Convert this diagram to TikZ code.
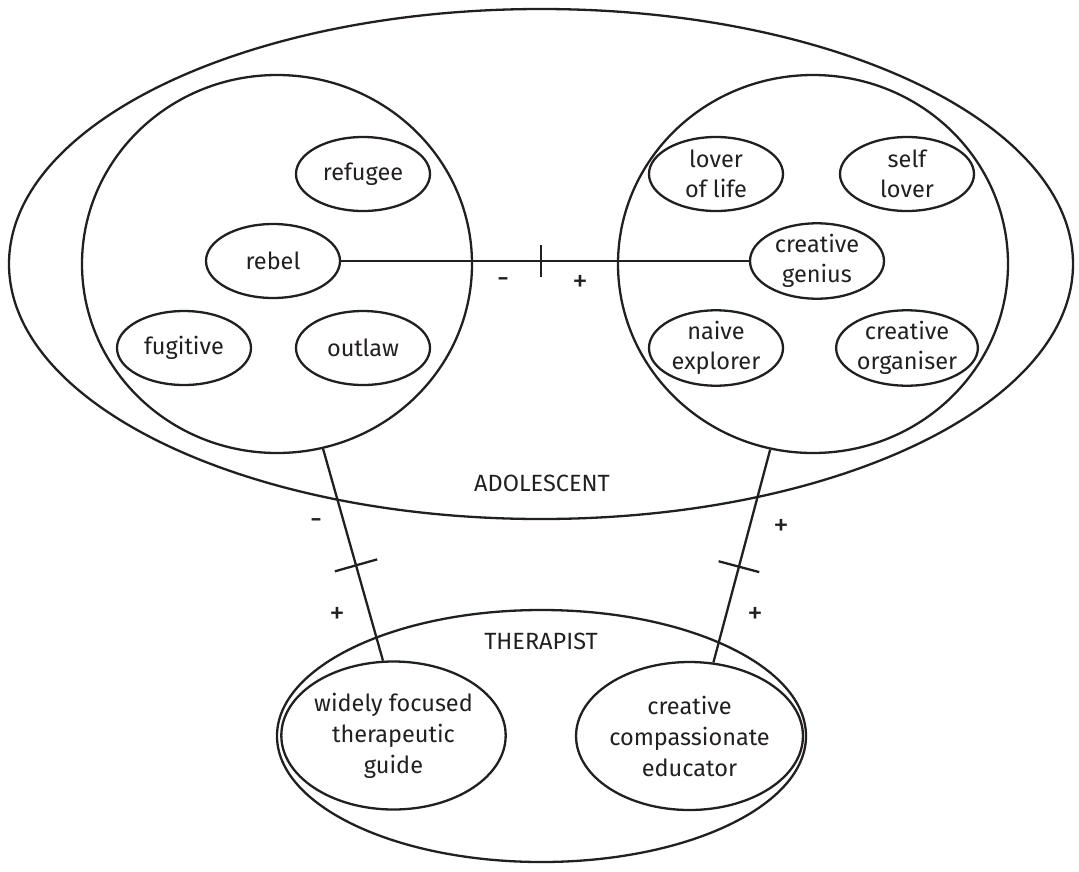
\documentclass[tikz,border=0pt]{standalone}
\usepackage{fontspec}
\setmainfont{Fira Sans}
\usetikzlibrary{shapes.geometric,calc}
\definecolor{ink}{HTML}{231F20}
\begin{document}
\begin{tikzpicture}[x=1pt,y=-1pt,
  every node/.style={font=\fontsize{23.5}{31}\selectfont, text=ink},
  oval/.style={draw=ink, ellipse, line width=2.3pt, inner sep=0pt, align=center},
  role/.style={oval, minimum width=134pt, minimum height=74pt},
  guide/.style={oval, minimum width=216pt, minimum height=148pt},
  link/.style={draw=ink, line width=2.3pt},
  sign/.style={inner sep=0pt, font=\fontsize{31}{31}\selectfont}]
\useasboundingbox (0,0) rectangle (1079,871);

% outer groupings
\node[oval, minimum width=1064pt, minimum height=510pt] (adol) at (541,264) {};
\node[oval, minimum width=390pt, minimum height=378pt] (neg) at (277,264) {};
\node[oval, minimum width=390pt, minimum height=378pt] (pos) at (813,264) {};
\node[oval, minimum width=529pt, minimum height=252pt] (ther) at (541.5,736) {};

% negative roles
\node[role] (refugee) at (363,174) {refugee};
\node[role] (rebel) at (273,261) {rebel};
\node[role] (fugitive) at (184,348) {fugitive};
\node[role] (outlaw) at (363,348) {outlaw};

% positive roles
\node[role] (loverlife) at (716,174) {lover\\[-1pt]of life};
\node[role] (selflover) at (907,174) {self\\[-1pt]lover};
\node[role] (genius) at (817,261) {creative\\[-1pt]genius};
\node[role] (naive) at (716,348) {naive\\[-1pt]explorer};
\node[role] (organiser) at (907,348) {creative\\[-1pt]organiser};

% therapist roles
\node[guide] (wide) at (393.5,735.5) {widely focused\\therapeutic\\guide};
\node[guide] (educ) at (689.5,736) {creative\\compassionate\\educator};

% group labels
\node (adollabel) at (542,483) {ADOLESCENT};
\node (therlabel) at (541,641) {THERAPIST};

% links
\draw[link] (rebel.east) -- (genius.west);
\draw[link] (neg.-76) -- (wide.98);
\draw[link] (pos.-103) -- (educ.72);

% tick marks on the links
\coordinate (tA) at ($(rebel.east)!0.49!(genius.west)$);
\draw[link] ($(tA)!16pt!90:(genius.west)$) -- ($(tA)!16pt!-90:(genius.west)$);
\coordinate (tB) at ($(neg.-76)!0.55!(wide.98)$);
\draw[link] ($(tB)!22pt!90:(wide.98)$) -- ($(tB)!22pt!-90:(wide.98)$);
\coordinate (tC) at ($(pos.-103)!0.55!(educ.72)$);
\draw[link] ($(tC)!21pt!90:(educ.72)$) -- ($(tC)!21pt!-90:(educ.72)$);

% signs
\node[sign] (sA1) at (503,283) {-};
\node[sign] (sA2) at (580,283) {+};
\node[sign] (sB1) at (316,524) {-};
\node[sign] (sB2) at (337,615) {+};
\node[sign] (sC1) at (781,527) {+};
\node[sign] (sC2) at (755,615) {+};
\end{tikzpicture}
\end{document}
